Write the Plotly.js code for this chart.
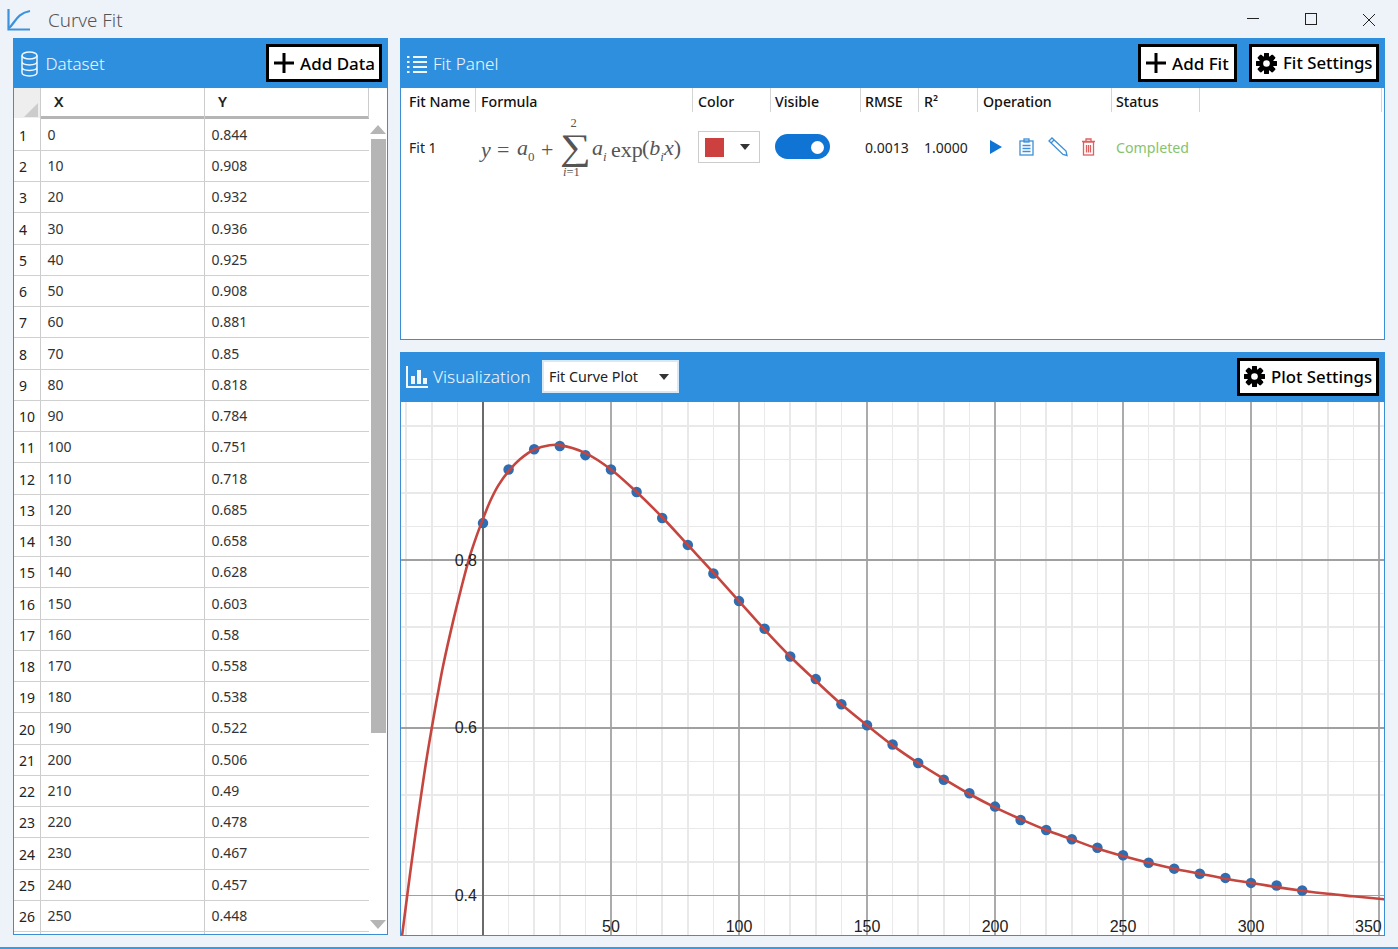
<!DOCTYPE html>
<html><head><meta charset="utf-8">
<script src="https://cdn.plot.ly/plotly-3.0.1.min.js"></script>
<style>
html,body{margin:0;padding:0;width:1398px;height:949px;overflow:hidden;background:#eef3fa;font-family:"Noto Sans","Open Sans",sans-serif;color:#222}
.a{position:absolute}
.t{position:absolute;white-space:nowrap;transform:translateY(-50%);line-height:1}
.btn{position:absolute;background:#fff;border:3px solid #000;box-sizing:border-box}
svg{position:absolute;overflow:visible}
#plot{position:absolute;left:401px;top:402px;width:983px;height:533px}
</style></head><body>
<div id="ui"></div>
<div id="plot"></div>
<script>
// ---------- data ----------
const dataX = [0,10,20,30,40,50,60,70,80,90,100,110,120,130,140,150,160,170,180,190,200,210,220,230,240,250,260,270,280,290,300,310,320];
const dataY = [0.844,0.908,0.932,0.936,0.925,0.908,0.881,0.85,0.818,0.784,0.751,0.718,0.685,0.658,0.628,0.603,0.58,0.558,0.538,0.522,0.506,0.49,0.478,0.467,0.457,0.448,0.439,0.432,0.426,0.421,0.415,0.412,0.406];
const fitX = [-32,-29.6,-28,-26.3,-24.3,-22.3,-20,-17.8,-15.5,-11.6,-8.7,-5.4,-2.7,0,2.7,6,10,14.45,20,26,30,40,50,60,70,80,90,100,110,120,130,140,150,160,170,180,190,200,210,220,230,240,250,260,270,280,290,300,310,320,330,340,352];
const fitY = [0.343,0.4,0.437,0.475,0.517,0.558,0.6,0.638,0.675,0.728,0.764,0.802,0.827,0.849,0.8695,0.889,0.906,0.92,0.9317,0.9368,0.937,0.9275,0.908,0.881,0.851,0.818,0.785,0.751,0.717,0.685,0.656,0.628,0.603,0.579,0.558,0.539,0.521,0.505,0.491,0.478,0.467,0.456,0.447,0.439,0.432,0.426,0.42,0.415,0.41,0.4057,0.402,0.399,0.3955];
const xTickVals = [50,100,150,200,250,300,350];
const yTickVals = [0.4,0.6,0.8];
const fitColumns = ["Fit Name","Formula","Color","Visible","RMSE","R²","Operation","Status"];
const fitColumnX = [409,481,698,775,865,924,983,1116];
const fitSeparators = [475,692,770,860,918,977,1111,1199,1381];
const fitRow = {name:"Fit 1", rmse:"0.0013", r2:"1.0000", status:"Completed"};

const ui = document.getElementById('ui');
function box(l,t,w,h,css){const d=document.createElement('div');d.className='a';d.style.cssText=`left:${l}px;top:${t}px;width:${w}px;height:${h}px;${css||''}`;ui.appendChild(d);return d;}
function text(s,l,cy,size,css){const d=document.createElement('div');d.className='t';d.textContent=s;d.style.cssText=`left:${l}px;top:${cy}px;font-size:${size}px;${css||''}`;ui.appendChild(d);return d;}
function html(s,l,cy,size,css){const d=text('',l,cy,size,css);d.innerHTML=s;return d;}
function svg(l,t,w,h,inner){const d=document.createElement('div');d.innerHTML=`<svg style="left:${l}px;top:${t}px" width="${w}" height="${h}" viewBox="0 0 ${w} ${h}">${inner}</svg>`;ui.appendChild(d.firstChild);}

const WHITE='#f0f7fe', BLUE='#2f8fdf', BORDER='#3b8ed4';
const plus=(x,y)=>svg(x,y,22,22,'<path d="M11 1V21M1 11H21" stroke="#000" stroke-width="3" fill="none"/>');
const gear=(x,y)=>{let teeth='';for(let i=0;i<8;i++)teeth+=`<rect x="8" y="0" width="5" height="21" rx="1" fill="#000" transform="rotate(${i*45} 10.5 10.5)"/>`;svg(x,y,21,21,teeth+'<circle cx="10.5" cy="10.5" r="7.5" fill="#000"/><circle cx="10.5" cy="10.5" r="3.3" fill="#fff"/>');};

// window chrome
svg(7,8,24,24,'<path d="M1.5 1V21.5H23" stroke="#3c93dc" stroke-width="2.2" fill="none"/><path d="M2 20C8 15 10 5 23 3" stroke="#3c93dc" stroke-width="2.2" fill="none"/>');
text('Curve Fit',48,20,18.8,'color:#555;font-weight:300');
svg(1247,12,130,16,'<path d="M0 6.5H12" stroke="#222" stroke-width="1"/><rect x="58.5" y="1.5" width="11" height="11" fill="none" stroke="#222"/><path d="M116 2L128 14M128 2L116 14" stroke="#222"/>');
box(0,946.5,1398,2,'background:#3b9ae4');

// Dataset panel
box(13,38,375,897,`background:#fff;box-sizing:border-box;border:1px solid ${BORDER};border-top:none`);
box(13,38,375,50,`background:${BLUE}`);
svg(21,51,17,27,`<g fill="none" stroke="${WHITE}" stroke-width="1.5"><ellipse cx="8.5" cy="4.5" rx="7.5" ry="3.5"/><path d="M1 4.5V21.5C1 26 16 26 16 21.5V4.5M1 10.5C1 15 16 15 16 10.5M1 16C1 20.5 16 20.5 16 16"/></g>`);
text('Dataset',45.5,62.8,17,`color:${WHITE};font-weight:300`);
const b1=document.createElement('div');b1.className='btn';b1.style.cssText='left:266px;top:44px;width:116px;height:38px';ui.appendChild(b1);
plus(273,52);text('Add Data',300,63,17,'color:#000;font-weight:500');

// Dataset table
box(14,88,26.5,30,'background:#eee');
svg(24,103,14,14,'<path d="M14 0V14H0Z" fill="#ccc"/>');
box(40.5,116,328,2.5,'background:#b5b5b5');
box(204,88,1,846,'background:#ccc');
box(40,88,1,846,'background:#ccc');
box(368,88,1,30,'background:#ccc');
text('X',54,101,15,'font-weight:600');
text('Y',218,101,15,'font-weight:600');
const clip=box(14,118.5,354.5,816,'overflow:hidden');
for(let i=0;i<27;i++){
  const cy=135.3+i*31.24;
  const rowLine=document.createElement('div');rowLine.className='a';
  rowLine.style.cssText=`left:0;top:${150+i*31.24-118.5}px;width:354.5px;height:1px;background:#d0d0d0`;clip.appendChild(rowLine);
  if(i<26){
    text(String(i+1),19,cy+.7,14,'color:#222');
    text(String(dataX[i]),47.5,cy-.4,14,'color:#333');
    text(String(dataY[i]),211.5,cy-.4,14,'color:#333');
  }
}
svg(369,125,18,10,'<path d="M9 0L17 9H1Z" fill="#b5b5b5"/>');
box(371,139,15,594,'background:#b5b5b5');
svg(369,920,18,10,'<path d="M9 9L17 0H1Z" fill="#b5b5b5"/>');

// Fit panel
box(400,38,985,301.5,`background:#fff;box-sizing:border-box;border:1px solid ${BORDER};border-top:none`);
box(400,38,985,50,`background:${BLUE}`);
svg(406,55,22,18,`<g stroke="${WHITE}" stroke-width="2.2"><path d="M7 2H21M7 7H21M7 12H21M7 17H21"/><path d="M1 2H3.5M1 7H3.5M1 12H3.5M1 17H3.5"/></g>`);
text('Fit Panel',433,62.8,17,`color:${WHITE};font-weight:300`);
const b2=document.createElement('div');b2.className='btn';b2.style.cssText='left:1138px;top:44px;width:99px;height:38px';ui.appendChild(b2);
plus(1145,52);text('Add Fit',1172,63,17,'color:#000;font-weight:500');
const b3=document.createElement('div');b3.className='btn';b3.style.cssText='left:1249px;top:44px;width:130px;height:38px';ui.appendChild(b3);
gear(1256,53);text('Fit Settings',1283,63,16.8,'color:#000;font-weight:500');
fitColumns.forEach((c,i)=>text(c,fitColumnX[i],102,14.2,'color:#111;font-weight:500'));
fitSeparators.forEach(x=>box(x,88,1,24,'background:#d4d4d4'));
text(fitRow.name,409,148,14,'color:#222');
// formula
const ser='font-family:"Liberation Serif",serif;color:#555;';
html('<i>y</i>',481,150,22,ser);
text('=',497,150,22,ser);
html('<i>a</i><sub style="font-size:13px">0</sub>',517,150,22,ser);
text('+',541,150,22,ser);
text('∑',559.5,148,36,ser+'line-height:.7;transform:translateY(-50%) scaleX(1.2);transform-origin:left center');
text('2',570.5,123,12.5,ser);
html('<i>i</i>=1',563,172,12.5,ser);
html('<i>a<sub style="font-size:13px">i</sub></i>',592,150,22,ser);
text('exp',611,150,22,ser);
html('(<i>b<sub style="font-size:13px">i</sub>x</i>)',642,150,22,ser);
// color select
box(698,131,62,32,'background:#fff;border:1px solid #ccc;box-sizing:border-box');
box(705,138,19,19,'background:#cc4040');
svg(740,144,10,6,'<path d="M0 0H10L5 6Z" fill="#333"/>');
// toggle
box(775,134,55,25,'background:#0f74d4;border-radius:13px');
box(811,141,13,13,'background:#fff;border-radius:50%');
text(fitRow.rmse,865,148,14,'color:#222');
text(fitRow.r2,924,148,14,'color:#222');
svg(990,139,12,16,'<path d="M0 1L12 8L0 15Z" fill="#0f74d4"/>');
svg(1019,138,15,18,'<g fill="none" stroke="#3c8fd8" stroke-width="1.3"><rect x="1" y="3" width="13" height="14"/><rect x="5" y="1" width="5" height="3"/><path d="M3.5 7.5H11.5M3.5 10.5H11.5M3.5 13.5H11.5"/></g>');
svg(1048,137,20,20,'<g fill="none" stroke="#3c8fd8" stroke-width="1.3"><path d="M1 4L4 1L18 14L19 18.5L15 17.5ZM3 6L6 3"/></g>');
svg(1081,138,15,18,'<g fill="none" stroke="#de5f5f" stroke-width="1.3"><path d="M1 3.5H14M5 3.5V1H10V3.5"/><rect x="2.5" y="4" width="10" height="13"/><path d="M5.5 7V14.5M7.5 7V14.5M9.5 7V14.5"/></g>');
text(fitRow.status,1116,147.5,14.2,'color:#84c46f');

// Visualization panel
box(400,352,985,584,`background:#fff;box-sizing:border-box;border:1px solid ${BORDER};border-top:none`);
box(400,352,985,50,`background:${BLUE}`);
svg(406,366,22,22,`<g fill="${WHITE}"><path d="M0 0H2V20H22V22H0Z"/><rect x="5" y="10" width="4" height="8"/><rect x="11" y="4" width="4" height="14"/><rect x="17" y="12" width="4" height="6"/></g>`);
text('Visualization',433,377,17.3,`color:${WHITE};font-weight:300`);
box(542,360,137,33,'background:#fff;border:2px solid #d8e8f6;box-sizing:border-box');
text('Fit Curve Plot',549,377,14.3,'color:#222');
svg(659,374,10,6,'<path d="M0 0H10L5 6Z" fill="#333"/>');
const b4=document.createElement('div');b4.className='btn';b4.style.cssText='left:1237px;top:358px;width:142px;height:38px';ui.appendChild(b4);
gear(1244,366);text('Plot Settings',1271,377,16.8,'color:#000;font-weight:500');

// ---------- the chart ----------
const tickFont={family:'"Liberation Sans",Arial,sans-serif',size:16,color:'#222'};
Plotly.newPlot('plot',[
 {type:'scatter',mode:'markers',x:dataX,y:dataY,marker:{color:'#2f6cb0',size:10.5},hoverinfo:'skip'},
 {type:'scatter',mode:'lines',x:fitX,y:fitY,line:{color:'#c5453f',width:2.6,shape:'spline',smoothing:1},hoverinfo:'skip'}
],{
 width:983,height:533,margin:{l:0,r:0,t:0,b:0,pad:0},
 paper_bgcolor:'rgba(0,0,0,0)',plot_bgcolor:'#fff',showlegend:false,
 xaxis:{range:[-32.03,351.95],tickmode:'array',tickvals:xTickVals,ticktext:['50','100','150','200','250','300',''],
   ticklabelposition:'inside',ticks:'',showline:false,showgrid:true,gridcolor:'#ababab',gridwidth:2,
   zeroline:true,zerolinecolor:'#6a6a6a',zerolinewidth:2,tickfont:tickFont,ticklabelstandoff:-3,
   minor:{dtick:10,tick0:0,showgrid:true,gridcolor:'#e9e9e9',gridwidth:1.5,ticks:''}},
 yaxis:{range:[0.3529,0.98838],tickmode:'array',tickvals:yTickVals,anchor:'free',position:0.0834,side:'left',
   ticks:'',showline:false,showgrid:true,gridcolor:'#a0a0a0',gridwidth:1.5,zeroline:false,tickfont:tickFont,ticklabelstandoff:6,
   minor:{dtick:0.04,tick0:0,showgrid:true,gridcolor:'#e9e9e9',gridwidth:1.5,ticks:''}},
 annotations:[{x:350,y:0,yref:'paper',xref:'x',text:'350',showarrow:false,xanchor:'right',yanchor:'bottom',xshift:5,yshift:-2,font:tickFont}]
},{displayModeBar:false,staticPlot:true});
</script>
</body></html>
